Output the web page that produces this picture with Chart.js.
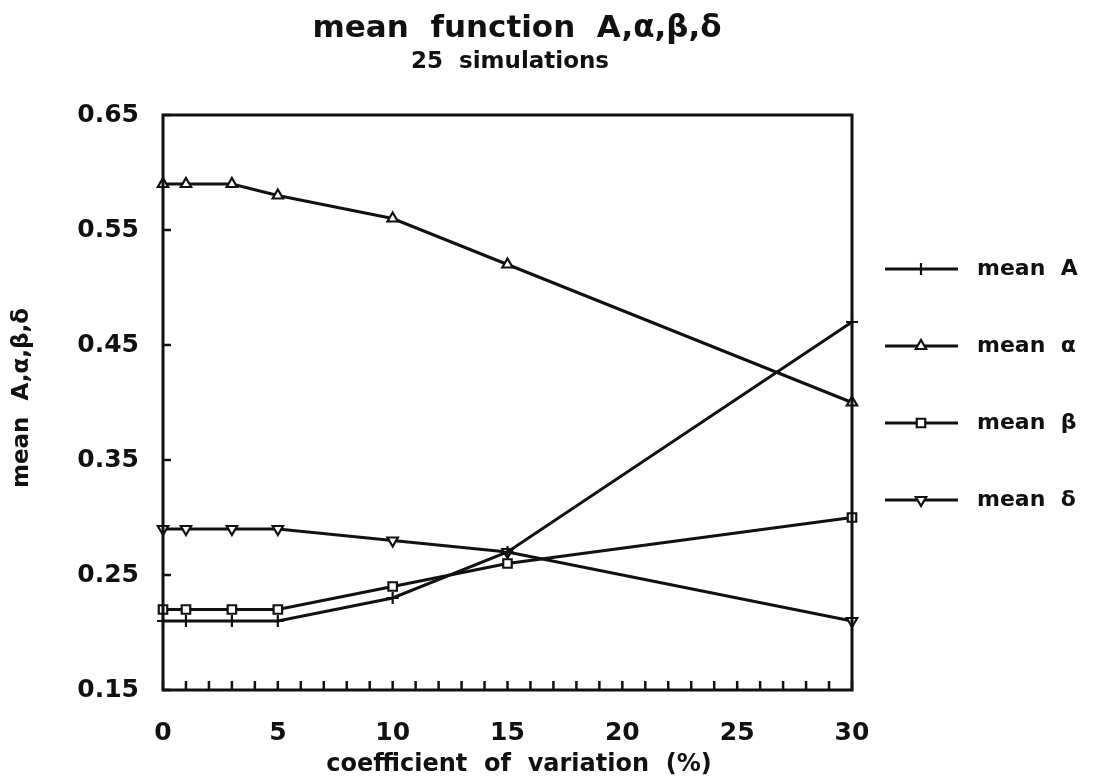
<!DOCTYPE html>
<html lang="en">
<head>
<meta charset="UTF-8">
<title>mean function A, alpha, beta, delta</title>
<script src="https://cdn.jsdelivr.net/npm/chart.js"></script>
<style>
  html, body { margin: 0; padding: 0; background: #fff; }
  #wrap { width: 1100px; height: 783px; position: relative; }
</style>
</head>
<body>
<div id="wrap"><canvas id="chart"></canvas></div>
<script>
// data
const cv = [0, 1, 3, 5, 10, 15, 30];
const meanA     = [0.21, 0.21, 0.21, 0.21, 0.23, 0.27, 0.47];
const meanAlpha = [0.59, 0.59, 0.59, 0.58, 0.56, 0.52, 0.40];
const meanBeta  = [0.22, 0.22, 0.22, 0.22, 0.24, 0.26, 0.30];
const meanDelta = [0.29, 0.29, 0.29, 0.29, 0.28, 0.27, 0.21];
const seriesNames = ['mean  A', 'mean  α', 'mean  β', 'mean  δ'];
const yTicks = [0.15, 0.25, 0.35, 0.45, 0.55, 0.65];
const xTicks = [0, 5, 10, 15, 20, 25, 30];
const xMinorStep = 1;

const ink = '#111';
const pts = arr => cv.map((x, i) => ({ x: x, y: arr[i] }));

function series(label, arr, style, rot) {
  return {
    label: label,
    data: pts(arr),
    borderColor: ink,
    borderWidth: 3,
    pointStyle: style,
    pointRotation: rot || 0,
    pointRadius: 6,
    pointBorderWidth: 2.2,
    pointBackgroundColor: '#fff',
    pointBorderColor: ink,
    tension: 0,
    clip: false
  };
}

const datasets = [
  series(seriesNames[0], meanA, 'cross'),
  series(seriesNames[1], meanAlpha, 'triangle'),
  series(seriesNames[2], meanBeta, 'rect'),
  series(seriesNames[3], meanDelta, 'triangle', 180)
];

// frame, inward ticks, titles and legend
const decor = {
  id: 'decor',
  afterDraw(chart) {
    const ctx = chart.ctx;
    const a = chart.chartArea;
    const xs = chart.scales.x, ys = chart.scales.y;
    ctx.save();
    ctx.strokeStyle = ink;
    ctx.fillStyle = ink;
    ctx.lineWidth = 3;
    ctx.strokeRect(a.left, a.top, a.right - a.left, a.bottom - a.top);

    ctx.lineWidth = 2.5;
    ctx.beginPath();
    for (let v = xs.min; v <= xs.max; v += xMinorStep) {
      const px = xs.getPixelForValue(v);
      ctx.moveTo(px, a.bottom);
      ctx.lineTo(px, a.bottom - 9);
    }
    yTicks.forEach(v => {
      const py = ys.getPixelForValue(v);
      ctx.moveTo(a.left, py);
      ctx.lineTo(a.left + 8, py);
    });
    ctx.stroke();

    ctx.textAlign = 'center';
    ctx.textBaseline = 'middle';
    ctx.font = 'bold 31px "DejaVu Sans"';
    ctx.fillText('mean  function  A,α,β,δ', 517, 29);
    ctx.font = 'bold 23px "DejaVu Sans"';
    ctx.fillText('25  simulations', 510, 62);

    ctx.font = 'bold 24px "DejaVu Sans"';
    ctx.fillText('coefficient  of  variation  (%)', 519, 765);
    ctx.save();
    ctx.translate(22, 398);
    ctx.rotate(-Math.PI / 2);
    ctx.font = 'bold 23px "DejaVu Sans"';
    ctx.fillText('mean  A,α,β,δ', 0, 0);
    ctx.restore();

    // legend
    ctx.textAlign = 'left';
    ctx.font = 'bold 22px "DejaVu Sans"';
    chart.data.datasets.forEach((ds, i) => {
      const y = 269 + i * 77;
      ctx.lineWidth = 3;
      ctx.beginPath();
      ctx.moveTo(885, y);
      ctx.lineTo(958, y);
      ctx.stroke();
      ctx.lineWidth = 2.2;
      ctx.fillStyle = '#fff';
      Chart.helpers.drawPoint(ctx, {
        pointStyle: ds.pointStyle, rotation: ds.pointRotation,
        radius: 6, borderWidth: 2.2
      }, 921, y);
      ctx.fillStyle = ink;
      ctx.fillText(ds.label, 977, y);
    });
    ctx.restore();
  }
};

new Chart(document.getElementById('chart'), {
  type: 'line',
  data: { datasets: datasets },
  options: {
    responsive: true,
    maintainAspectRatio: false,
    animation: false,
    layout: { padding: { left: 0, right: 248, top: 115, bottom: 0 } },
    plugins: {
      legend: { display: false },
      tooltip: { enabled: false }
    },
    scales: {
      x: {
        type: 'linear',
        min: 0,
        max: 30,
        afterBuildTicks: s => { s.ticks = xTicks.map(v => ({ value: v })); },
        afterFit: s => { s.height = 93; },
        grid: { display: false },
        border: { display: false },
        ticks: { color: ink, padding: 20, font: { family: 'DejaVu Sans', size: 25, weight: 'bold' } }
      },
      y: {
        min: 0.15,
        max: 0.65,
        afterBuildTicks: s => { s.ticks = yTicks.map(v => ({ value: v })); },
        afterFit: s => { s.width = 163; },
        grid: { display: false },
        border: { display: false },
        ticks: {
          color: ink, padding: 16, font: { family: 'DejaVu Sans', size: 25, weight: 'bold' },
          callback: v => v.toFixed(2)
        }
      }
    }
  },
  plugins: [decor]
});
</script>
</body>
</html>
